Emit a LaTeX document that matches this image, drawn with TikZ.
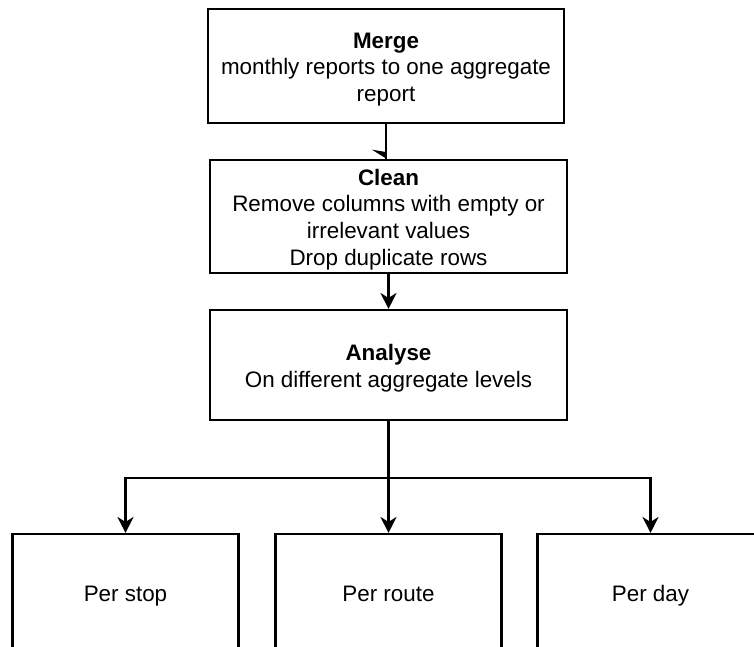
\documentclass[tikz,border=0pt]{standalone}
\usepackage{fontspec}
\setmainfont{Liberation Sans}
\usetikzlibrary{arrows.meta,calc}

% strut that lowers a multi-line block a little inside its box
\newcommand{\toppad}{\rule{0pt}{22.4pt}}

\begin{document}
\begin{tikzpicture}[
  x=1pt, y=-1pt,
  stepbox/.style={draw=black, line width=2.1pt, align=center, inner sep=0pt,
    font=\fontsize{22.4}{26.8}\selectfont},
  levelbox/.style={stepbox, minimum width=226pt, minimum height=116pt,
    text height=20pt, text depth=2pt},
  link/.style={draw=black, line width=2.1pt},
  arrowlink/.style={link, -{Stealth[length=16pt, width=16pt, inset=5pt]}}
]
  % page area; the bottom row of boxes runs past its edges
  \clip (0,0) rectangle (754,646);

  % process steps
  \node[stepbox, minimum width=356pt, minimum height=113.4pt] (merge) at (386,66)
    {\toppad\textbf{Merge}\\monthly reports to one aggregate\\report};
  \node[stepbox, minimum width=357pt, minimum height=112.7pt] (clean) at (388.5,216.4)
    {\toppad\textbf{Clean}\\Remove columns with empty or\\irrelevant values\\Drop duplicate rows};
  \node[stepbox, minimum width=357pt, minimum height=110pt] (analyse) at (388.5,365)
    {\toppad\textbf{Analyse}\\On different aggregate levels};

  % aggregate levels
  \node[levelbox] (stop)  at (125.5,592) {Per stop};
  \node[levelbox] (route) at (388.5,592) {Per route};
  \node[levelbox] (day)   at (650.5,592) {Per day};

  % merge -> clean, with its tip mostly tucked under the clean box
  \coordinate (mc) at (merge.south |- clean.north);
  \draw[link] (merge.south) -- (mc);
  \fill ($(mc)+(-14,-9.3)$) -- ($(mc)+(0,-7)$) -- ($(mc)+(0,-0.5)$) -- cycle;

  % clean -> analyse
  \draw[arrowlink] (clean.south) -- (analyse.north);

  % analyse fans out to the three levels
  \coordinate (fork) at (388.5,478);
  \draw[link] (analyse.south) -- (fork);
  \draw[arrowlink] (fork) -| (stop.north);
  \draw[arrowlink] (fork) -- (route.north);
  \draw[arrowlink] (fork) -| (day.north);
\end{tikzpicture}
\end{document}
